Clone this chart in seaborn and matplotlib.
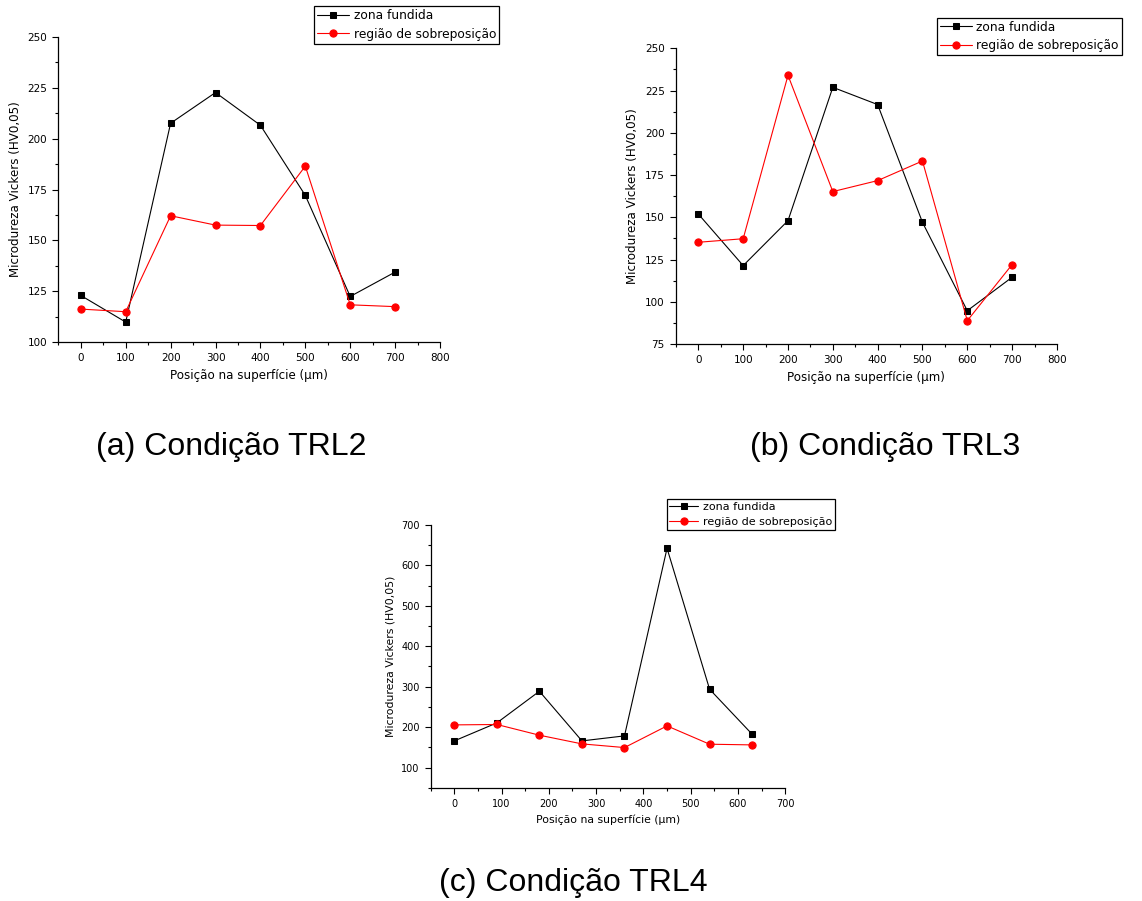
import matplotlib

matplotlib.use("Agg")

import matplotlib.pyplot as plt
import pandas as pd
import seaborn as sns
from matplotlib.ticker import AutoMinorLocator, MultipleLocator


# (a) Condição TRL2
POS_A = [0, 100, 200, 300, 400, 500, 600, 700]
ZF_A = [122.9, 109.8, 207.6, 222.7, 206.6, 172.1, 122.4, 134.4]
RS_A = [116.2, 114.9, 162.1, 157.5, 157.3, 186.5, 118.3, 117.4]

# (b) Condição TRL3
POS_B = [0, 100, 200, 300, 400, 500, 600, 700]
ZF_B = [151.9, 121.4, 148.0, 226.9, 216.7, 147.0, 94.7, 114.5]
RS_B = [135.2, 137.3, 234.0, 165.2, 171.7, 183.3, 88.8, 122.0]

# (c) Condição TRL4
POS_C = [0, 90, 180, 270, 360, 450, 540, 630]
ZF_C = [165.9, 210.4, 288.7, 165.9, 178.3, 642.3, 293.7, 182.4]
RS_C = [205.5, 206.5, 180.0, 158.5, 149.4, 203.0, 157.7, 156.0]

CAPTIONS = ["(a) Condição TRL2", "(b) Condição TRL3", "(c) Condição TRL4"]
XLABEL = "Posição na superfície (μm)"
YLABEL = "Microdureza Vickers (HV0,05)"
LABEL_ZF = "zona fundida"
LABEL_RS = "região de sobreposição"


def style_axis(ax, xlim, ylim, xstep, ystep, fs, lab_fs):
    ax.set_xlim(*xlim)
    ax.set_ylim(*ylim)
    ax.xaxis.set_major_locator(MultipleLocator(xstep))
    ax.yaxis.set_major_locator(MultipleLocator(ystep))
    ax.xaxis.set_minor_locator(AutoMinorLocator(2))
    ax.yaxis.set_minor_locator(AutoMinorLocator(2))
    ax.tick_params(which="major", direction="out", length=4.5, width=0.8, labelsize=fs,
                   color="black", labelcolor="black")
    ax.tick_params(which="minor", direction="out", length=2.5, width=0.8, color="black")
    for side in ("top", "right"):
        ax.spines[side].set_visible(False)
    for side in ("left", "bottom"):
        ax.spines[side].set_color("black")
        ax.spines[side].set_linewidth(0.9)
    ax.set_xlabel(XLABEL, fontsize=lab_fs, labelpad=4, color="black")
    ax.set_ylabel(YLABEL, fontsize=lab_fs, labelpad=4, color="black")
    ax.grid(False)


def draw_panel(fig, rect, pos, zf, rs, legend_xy, lfs):
    ax = fig.add_axes(rect)
    df = pd.DataFrame({"pos": pos, "zf": zf, "rs": rs})
    sns.lineplot(data=df, x="pos", y="zf", ax=ax, color="black", marker="s", markersize=4.6,
                 markeredgecolor="black", linewidth=0.8, label=LABEL_ZF)
    sns.lineplot(data=df, x="pos", y="rs", ax=ax, color="red", marker="o", markersize=5.2,
                 markeredgecolor="red", linewidth=0.8, label=LABEL_RS)
    leg = ax.legend(loc="upper left", bbox_to_anchor=legend_xy, bbox_transform=fig.transFigure,
                    borderaxespad=0, fontsize=lfs, frameon=True, fancybox=False, framealpha=1,
                    edgecolor="black", handlelength=2.6, handletextpad=0.4, labelspacing=0.45,
                    borderpad=0.25, labelcolor="black")
    leg.get_frame().set_linewidth(0.9)
    return ax


def main():
    sns.set_theme(style="ticks")
    plt.rcParams["font.family"] = ["DejaVu Sans"]
    plt.rcParams["text.color"] = "black"
    plt.rcParams["axes.labelcolor"] = "black"

    fig = plt.figure(figsize=(11.42, 9.01), dpi=100)

    ax_a = draw_panel(fig, [0.0511, 0.6204, 0.3342, 0.3385], POS_A, ZF_A, RS_A, (0.275, 0.9933), 8.8)
    style_axis(ax_a, (-50, 800), (100, 250), 100, 25, 7.5, 8.6)

    ax_b = draw_panel(fig, [0.5919, 0.6182, 0.3336, 0.3282], POS_B, ZF_B, RS_B, (0.8202, 0.9804), 8.8)
    style_axis(ax_b, (-50, 800), (75, 250), 100, 25, 7.5, 8.6)

    ax_c = draw_panel(fig, [0.3771, 0.1257, 0.3105, 0.2916], POS_C, ZF_C, RS_C, (0.5838, 0.4458), 8.0)
    style_axis(ax_c, (-50, 700), (50, 700), 100, 100, 7.0, 7.8)

    caption_font = ["Liberation Sans", "DejaVu Sans"]
    fig.text(0.2025, 0.504, CAPTIONS[0], ha="center", va="center", fontsize=23, family=caption_font, color="black")
    fig.text(0.7747, 0.504, CAPTIONS[1], ha="center", va="center", fontsize=23, family=caption_font, color="black")
    fig.text(0.5017, 0.020, CAPTIONS[2], ha="center", va="center", fontsize=23, family=caption_font, color="black")

    fig.savefig("out.png", dpi=100, facecolor="white")


if __name__ == "__main__":
    main()
